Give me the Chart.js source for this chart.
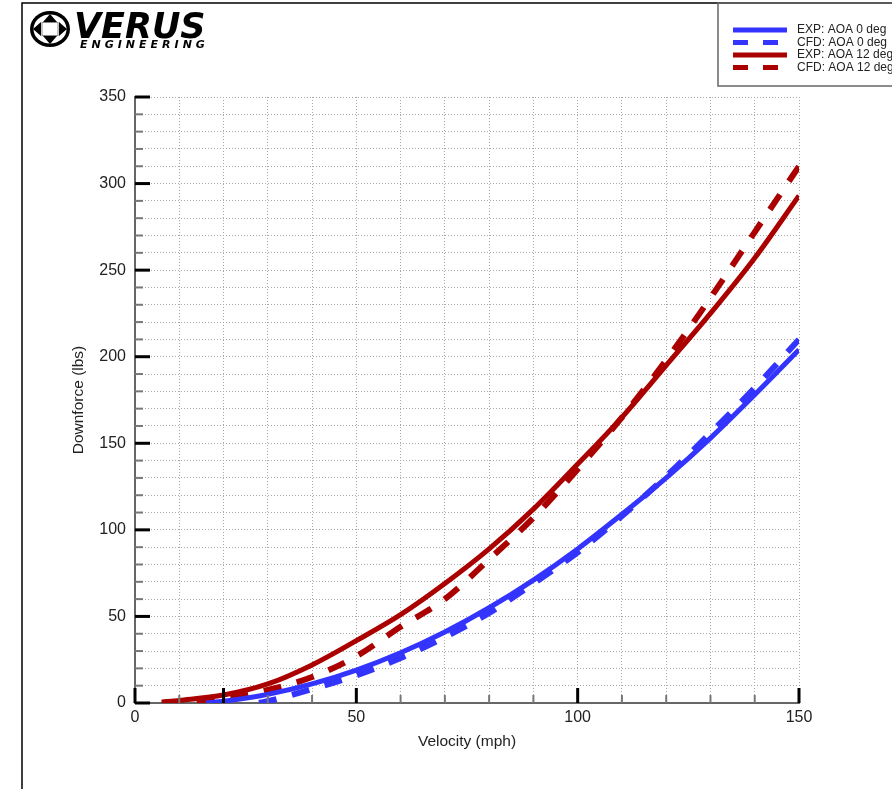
<!DOCTYPE html>
<html>
<head>
<meta charset="utf-8">
<script src="https://cdn.jsdelivr.net/npm/chart.js@4/dist/chart.umd.min.js"></script>
<style>
html, body { margin: 0; padding: 0; background: #fff; }
canvas { display: block; }
</style>
</head>
<body>
<canvas id="chart" width="892" height="789"></canvas>
<script>
// === Data ===

const seriesLabels = ['EXP: AOA 0 deg', 'CFD: AOA 0 deg', 'EXP: AOA 12 deg', 'CFD: AOA 12 deg'];

const expVel0 = [16, 20, 30, 40, 50, 60, 70, 80, 90, 100, 110, 120, 130, 140, 150];
const expForce0 = [0, 1, 5, 11, 19, 29, 41, 55, 71, 89, 109, 130, 153, 178, 204];

const cfdVel0 = [28, 30, 40, 50, 60, 70, 80, 90, 100, 110, 120, 130, 140, 150];
const cfdForce0 = [0, 1, 8, 16, 26, 38, 52, 69, 87, 108, 131, 156, 182, 210];

const expVel12 = [6, 10, 20, 30, 40, 50, 60, 70, 80, 90, 100, 110, 120, 130, 140, 150];
const expForce12 = [0.5, 1.5, 4.6, 11, 22, 36, 51, 69, 89, 112, 138, 165, 195, 225, 257, 293];

const cfdVel12 = [14, 20, 30, 40, 50, 60, 70, 80, 90, 100, 110, 120, 130, 140, 150];
const cfdForce12 = [0, 2, 7.5, 15, 27, 44, 60, 83, 107, 135, 165, 198, 234, 272, 310];

const xMajorTicks = [0, 20, 50, 100, 150];
const yMajorTicks = [0, 50, 100, 150, 200, 250, 300, 350];

const BLUE = '#3434ff';
const RED = '#aa0000';
const FONT = '"Liberation Sans", Arial, sans-serif';

function toPoints(xs, ys) {
	return xs.map((x, i) => ({ x: x, y: ys[i] }));
}


// === Plugins ===

// tick marks drawn inside the plot, like the original
const innerTicks = {
	id: 'innerTicks',
	afterDatasetsDraw(chart) {
		const { ctx, scales: { x, y } } = chart;
		ctx.save();
		x.ticks.forEach(t => {
			const px = x.getPixelForValue(t.value);
			const major = xMajorTicks.includes(t.value);
			ctx.strokeStyle = major ? '#000' : '#777';
			ctx.lineWidth = major ? 3 : 2;
			ctx.beginPath();
			ctx.moveTo(px, y.bottom);
			ctx.lineTo(px, y.bottom - (major ? 15 : 8));
			ctx.stroke();
		});
		y.ticks.forEach(t => {
			const py = y.getPixelForValue(t.value);
			const major = yMajorTicks.includes(t.value);
			ctx.strokeStyle = major ? '#000' : '#777';
			ctx.lineWidth = major ? 3 : 2;
			ctx.beginPath();
			ctx.moveTo(x.left, py);
			ctx.lineTo(x.left + (major ? 15 : 8), py);
			ctx.stroke();
		});
		ctx.restore();
	}
};

const decorations = {
	id: 'decorations',
	afterDraw(chart) {
		const ctx = chart.ctx;
		ctx.save();

		// page frame
		ctx.strokeStyle = '#000';
		ctx.lineWidth = 1.5;
		ctx.beginPath();
		ctx.moveTo(22, 789);
		ctx.lineTo(22, 3);
		ctx.lineTo(892, 3);
		ctx.stroke();

		// logo emblem
		const cx = 50, cy = 29;
		ctx.fillStyle = '#000';
		ctx.beginPath();
		ctx.ellipse(cx, cy, 20, 18, 0, 0, Math.PI * 2);
		ctx.fill();
		ctx.fillStyle = '#fff';
		ctx.beginPath();
		ctx.ellipse(cx, cy, 16.5, 14.5, 0, 0, Math.PI * 2);
		ctx.fill();
		ctx.fillStyle = '#000';
		ctx.beginPath();
		ctx.moveTo(cx - 7, cy - 7); ctx.lineTo(cx + 7, cy - 7); ctx.lineTo(cx, cy - 15); ctx.closePath();
		ctx.moveTo(cx - 7, cy + 7); ctx.lineTo(cx + 7, cy + 7); ctx.lineTo(cx, cy + 15); ctx.closePath();
		ctx.moveTo(cx - 9, cy - 7); ctx.lineTo(cx - 9, cy + 7); ctx.lineTo(cx - 17, cy); ctx.closePath();
		ctx.moveTo(cx + 9, cy - 7); ctx.lineTo(cx + 9, cy + 7); ctx.lineTo(cx + 17, cy); ctx.closePath();
		ctx.fill();
		ctx.strokeStyle = '#888';
		ctx.lineWidth = 1;
		ctx.strokeRect(cx - 8, cy - 6.5, 16, 13);

		// logo text
		ctx.fillStyle = '#000';
		ctx.textAlign = 'left';
		ctx.textBaseline = 'alphabetic';
		ctx.font = 'bold italic 35px "DejaVu Sans"';
		ctx.fillText('VERUS', 74, 38);
		ctx.font = 'bold italic 11px "DejaVu Sans"';
		ctx.letterSpacing = '4px';
		ctx.fillText('ENGINEERING', 80, 48);
		ctx.letterSpacing = '0px';

		// legend box
		ctx.strokeStyle = '#666';
		ctx.lineWidth = 1.5;
		ctx.strokeRect(718, 3, 180, 83);
		ctx.font = '12px ' + FONT;
		ctx.textBaseline = 'middle';
		chart.data.datasets.forEach((ds, i) => {
			const ly = 30 + i * 12.5;
			ctx.strokeStyle = ds.borderColor;
			ctx.lineWidth = 5;
			ctx.setLineDash(ds.borderDash.length ? [15, 15] : []);
			ctx.beginPath();
			ctx.moveTo(733, ly);
			ctx.lineTo(787, ly);
			ctx.stroke();
			ctx.setLineDash([]);
			ctx.fillStyle = '#222';
			ctx.fillText(ds.label, 797, ly);
		});

		ctx.restore();
	}
};


// === Chart ===

function makeDataset(label, xs, ys, color, dashed) {
	return {
		label: label,
		data: toPoints(xs, ys),
		borderColor: color,
		backgroundColor: color,
		borderWidth: dashed ? 6 : 5,
		borderDash: dashed ? [18, 16] : [],
		pointRadius: 0,
		fill: false,
		cubicInterpolationMode: 'monotone'
	};
}

new Chart(document.getElementById('chart'), {
	type: 'line',
	data: {
		datasets: [
			makeDataset(seriesLabels[0], expVel0, expForce0, BLUE, false),
			makeDataset(seriesLabels[1], cfdVel0, cfdForce0, BLUE, true),
			makeDataset(seriesLabels[2], expVel12, expForce12, RED, false),
			makeDataset(seriesLabels[3], cfdVel12, cfdForce12, RED, true)
		]
	},
	options: {
		responsive: false,
		animation: false,
		devicePixelRatio: 1,
		layout: { padding: { top: 97, right: 93, left: 0, bottom: 0 } },
		plugins: {
			legend: { display: false },
			tooltip: { enabled: false }
		},
		scales: {
			x: {
				type: 'linear',
				min: 0,
				max: 150,
				afterFit: s => { s.height = 86; },
				ticks: {
					stepSize: 10,
					maxTicksLimit: 100,
					autoSkip: false,
					maxRotation: 0,
					padding: 5,
					color: '#222',
					font: { family: FONT, size: 16 },
					callback: v => (v % 50 === 0 ? v : '')
				},
				grid: { color: '#a8a8a8', lineWidth: 1, drawTicks: false },
				border: { color: '#666', width: 2, dash: [1, 2] },
				title: {
					display: true,
					text: 'Velocity (mph)',
					color: '#222',
					font: { family: FONT, size: 15.5 },
					padding: { top: 0, bottom: 38 }
				}
			},
			y: {
				type: 'linear',
				min: 0,
				max: 350,
				afterFit: s => { s.width = 135; },
				ticks: {
					stepSize: 10,
					maxTicksLimit: 100,
					autoSkip: false,
					padding: 9,
					color: '#222',
					font: { family: FONT, size: 16 },
					callback: v => (v % 50 === 0 ? v : '')
				},
				grid: { color: '#a8a8a8', lineWidth: 1, drawTicks: false },
				border: { color: '#666', width: 2, dash: [1, 2] },
				title: {
					display: true,
					text: 'Downforce (lbs)',
					color: '#222',
					font: { family: FONT, size: 15.5 },
					padding: { top: 69, bottom: 0 }
				}
			}
		}
	},
	plugins: [innerTicks, decorations]
});
</script>
</body>
</html>
